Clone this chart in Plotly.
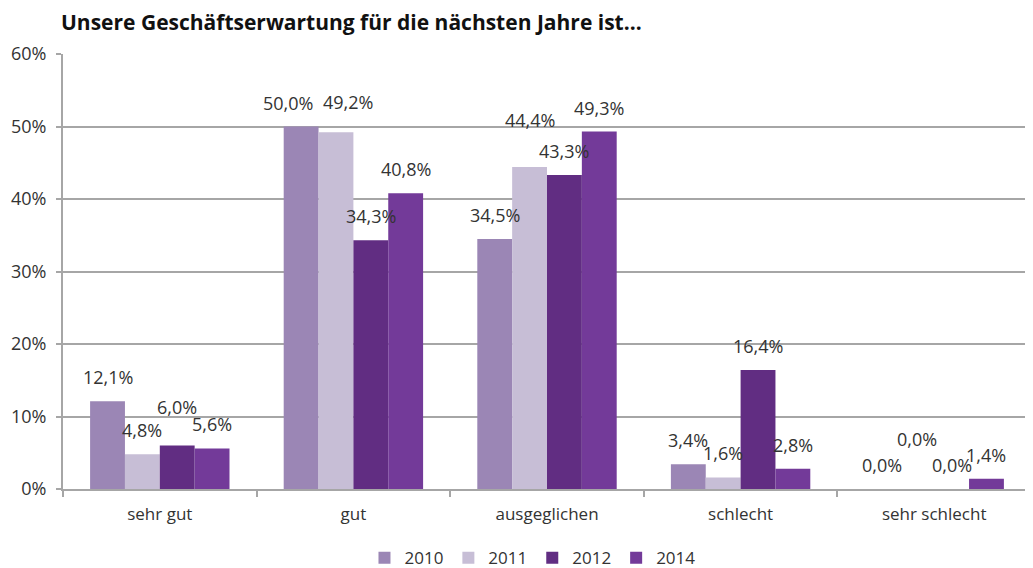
import plotly.graph_objects as go

categories = ["sehr gut", "gut", "ausgeglichen", "schlecht", "sehr schlecht"]
years = ["2010", "2011", "2012", "2014"]
v2010 = [12.1, 50.0, 34.5, 3.4, 0.0]
v2011 = [4.8, 49.2, 44.4, 1.6, 0.0]
v2012 = [6.0, 34.3, 43.3, 16.4, 0.0]
v2014 = [5.6, 40.8, 49.3, 2.8, 1.4]
series = [v2010, v2011, v2012, v2014]
colors = ["#9B86B5", "#C7BED6", "#612D82", "#733A99"]
# label nudges (px) to avoid overlaps, as in the reference
lift = [
    [0, 0, 0, 0, 0],
    [0, 6, 23, 0, 26],
    [15, 0, 0, 0, 0],
    [0, 0, 0, 0, 0],
]
nudge_x = [
    [0, -13, 0, 0, 0],
    [0, 12, 0, 0, 0],
    [0, 0, 0, 0, 0],
    [0, 0, 0, 0, 0],
]

FONT = "Open Sans, sans-serif"
TXT = "#333333"

fig = go.Figure()
for name, vals, col in zip(years, series, colors):
    fig.add_trace(go.Bar(name=name, x=categories, y=vals, marker_color=col,
                         marker_line_width=0))

fig.update_layout(barmode="group", bargap=0.28, bargroupgap=0)

nser = len(series)
font = dict(family=FONT, size=18, color=TXT)
ann = []
gw = 1 - 0.28
bw = gw / nser
for si, vals in enumerate(series):
    for ci, v in enumerate(vals):
        xpos = ci - gw / 2 + bw * (si + 0.5)
        ann.append(dict(x=xpos, y=v, xref="x", yref="y",
                        text=f"{v:.1f}%".replace(".", ","),
                        showarrow=False, yanchor="bottom",
                        yshift=10 + lift[si][ci], xshift=nudge_x[si][ci], font=font))
fig.update_layout(annotations=ann)

fig.update_layout(
    width=1025, height=560,
    margin=dict(l=55, r=2, t=46, b=79, autoexpand=False),
    paper_bgcolor="white", plot_bgcolor="white",
    font=font,
    title=dict(text="<b>Unsere Geschäftserwartung für die nächsten Jahre ist...</b>",
               x=53/1025, xanchor="left", y=1-15/560, yanchor="middle",
               font=dict(family=FONT, size=21, color="#111111")),
    legend=dict(orientation="h", x=0.485, xanchor="center", y=-0.159, yanchor="middle",
                font=dict(family=FONT, size=17, color=TXT), itemwidth=30,
                traceorder="normal"),
    xaxis=dict(type="category", showline=True, linecolor="#A6A6A6", linewidth=2,
               ticks="outside", tickson="boundaries", ticklen=6, tickcolor="#A6A6A6",
               tickwidth=2, tickfont=dict(family=FONT, size=17, color=TXT),
               ticklabelstandoff=9, range=[-0.5, 4.5]),
    yaxis=dict(range=[0, 60], dtick=10, ticksuffix="%", showgrid=True,
               gridcolor="#A6A6A6", gridwidth=2, showline=True, linecolor="#A6A6A6",
               linewidth=2, ticks="outside", ticklen=5, tickcolor="#A6A6A6", tickwidth=2,
               zeroline=False, ticklabelstandoff=6,
               tickfont=dict(family=FONT, size=18, color=TXT)),
)

fig.write_html("out.html")
